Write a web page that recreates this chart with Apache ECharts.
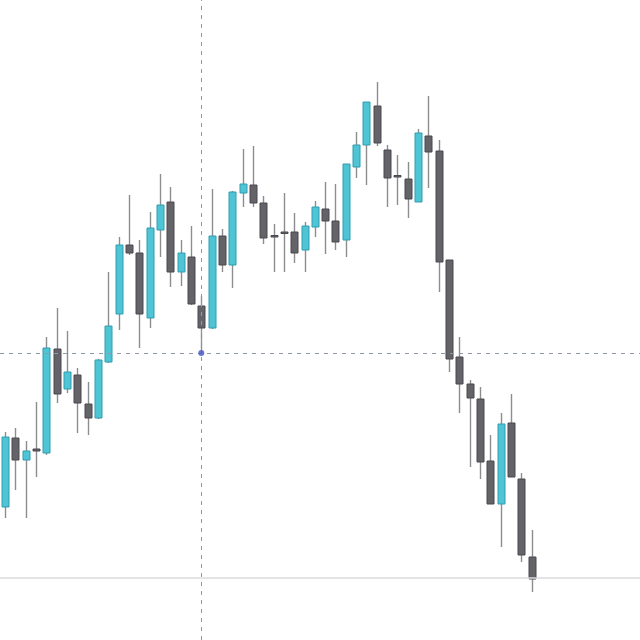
<!DOCTYPE html>
<html>
<head>
<meta charset="utf-8">
<script src="https://cdn.jsdelivr.net/npm/echarts@6/dist/echarts.min.js"></script>
<style>html,body{margin:0;padding:0;background:#fff}#c{width:640px;height:640px}</style>
</head>
<body>
<div id="c"></div>
<script>
// candle values: [open, close, low, high] stored as separate arrays
const opens  = [133,202,180,191,187,291,251,265,236,222,278,326,395,387,322,410,438,368,383,334,312,404,375,447,455,437,404.5,408,408,390,413,431,419,400,473,495,534,490,464.5,461,438,504,489,380,283,256,241,179,136,217,161,83];
const closes = [203,180,189,189,292,246,268,237,222,280,314,395,387,326,412,435,368,387,336,312,404,375,448,456,437,402,403.5,407,387,414,433,419,398,476,495,538,497,462,463.5,441,507,488,378,281,256,242,178,136,216,163,85,61];
const lows   = [122,150,122,163,185,237,247,207,205,221,277,310,385,292,312,383,353,354,335,287,311,368,352,433,433,396,368,368,377,368,403,386,390,383,462,455,494,433,435,422,438,452,348,268,227,173,161,136,93,163,78,48];
const highs  = [208,212,199,238,303,332,309,272,258,281,368,403,445,400,428,466,453,400,414,344,451,411,449,491,494,444,416,447,427,418,439,458,456,476,508,538,558,495,485,478,511,544,500,380,303,260,253,205,227,246,167,110];
const totalSlots = 62;
const crossIndex = 19;
const crossValue = 287;
const lastPrice = 62;

const categories = [];
for (let i = 0; i < totalSlots; i++) categories.push(String(i));
const data = opens.map((o, i) => [i, o, closes[i], lows[i], highs[i]]);

const chart = echarts.init(document.getElementById('c'));
chart.setOption({
  animation: false,
  backgroundColor: '#ffffff',
  grid: {left: -1, right: 0, top: 0, bottom: 0},
  xAxis: {type: 'category', data: categories, show: false, boundaryGap: true},
  yAxis: {type: 'value', min: 0, max: 640, show: false, splitLine: {show: false}},
  series: [
    {
      type: 'line',
      data: [],
      silent: true,
      markLine: {
        symbol: 'none',
        silent: true,
        label: {show: false},
        data: [
          {yAxis: lastPrice, lineStyle: {color: '#d9dbde', width: 1.5, type: 'solid'}},
          {yAxis: crossValue, lineStyle: {color: '#8f98a6', width: 1, type: [4, 5]}},
          {xAxis: crossIndex, lineStyle: {color: '#8f98a6', width: 1, type: [4, 5]}}
        ]
      },
      z: 1
    },
    {
      type: 'custom',
      data: data,
      encode: {x: 0, y: [1, 2, 3, 4]},
      z: 2,
      renderItem: function (params, api) {
        const idx = api.value(0);
        const o = api.value(1), c = api.value(2), l = api.value(3), h = api.value(4);
        const pLow = api.coord([idx, l]);
        const pHigh = api.coord([idx, h]);
        const pO = api.coord([idx, o]);
        const pC = api.coord([idx, c]);
        const w = 7;
        const up = c > o;
        const top = Math.min(pO[1], pC[1]);
        const bh = Math.max(Math.abs(pO[1] - pC[1]), 1.5);
        const x = Math.round(pLow[0]) + 0.5;
        return {
          type: 'group',
          children: [
            {type: 'line', shape: {x1: x, y1: pHigh[1], x2: x, y2: pLow[1]},
             style: {stroke: '#8d8d90', lineWidth: 1.4}},
            {type: 'rect', shape: {x: x - w / 2, y: top, width: w, height: bh},
             style: {fill: up ? '#4fc4d4' : '#646368', stroke: up ? '#2e9db0' : '#4a494e', lineWidth: 1}}
          ]
        };
      }
    },
    {
      type: 'scatter',
      data: [[crossIndex, crossValue]],
      symbolSize: 6,
      itemStyle: {color: '#4552cc'},
      z: 5,
      silent: true
    }
  ]
});
</script>
</body>
</html>
